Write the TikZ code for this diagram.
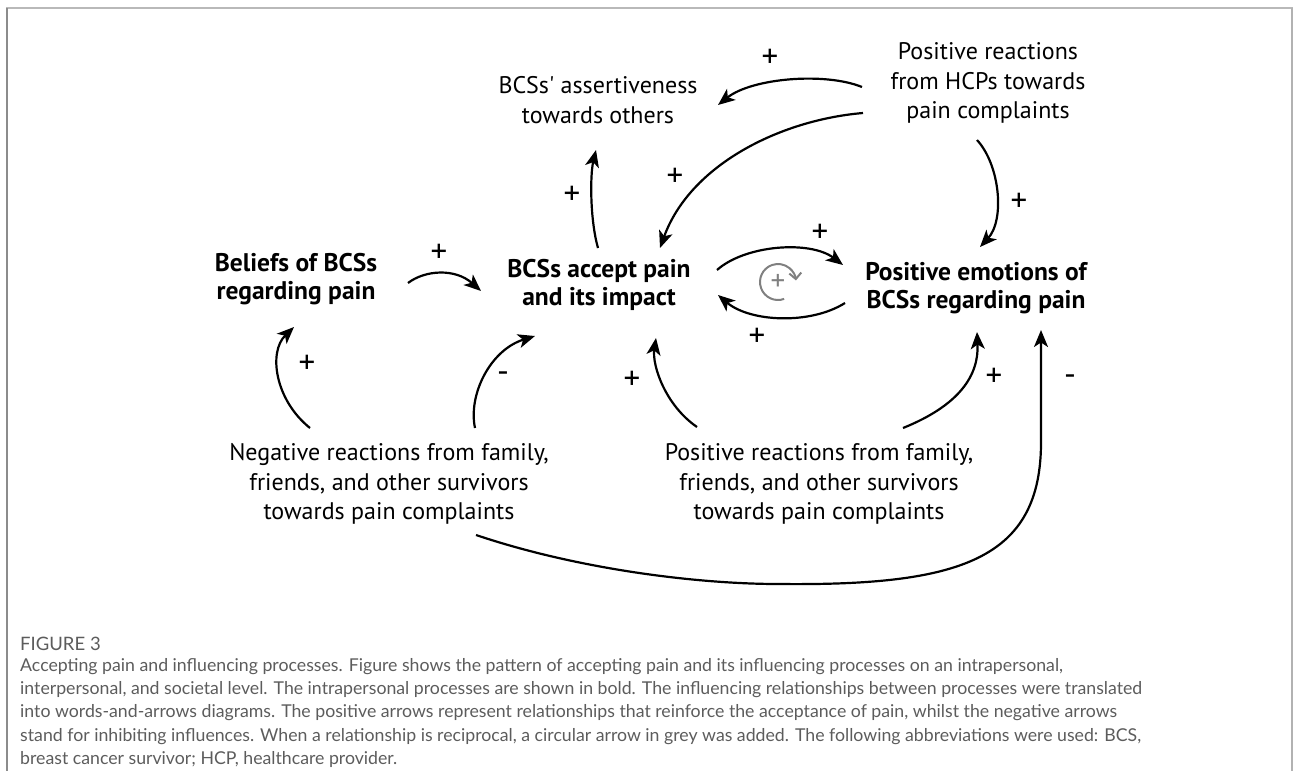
\documentclass[tikz,border=0pt]{standalone}
\usepackage{fontspec}
\setmainfont{PT Sans}
\newfontfamily\capfont{Lato}
\usetikzlibrary{arrows.meta}
\usetikzlibrary{calc}
\definecolor{captext}{HTML}{5C5C5C}
\tikzset{proc/.style={align=center,inner sep=0pt,font=\fontsize{24}{29.5}\selectfont},
 intra/.style={proc,font=\fontsize{25.5}{28.5}\selectfont\bfseries},
 sign/.style={inner sep=0pt,font=\fontsize{33}{33}\selectfont},
 infl/.style={draw,line width=2.2pt,-{Stealth[length=17pt,width=14pt,inset=4.5pt]}},
 }

\begin{document}
\begin{tikzpicture}[x=1pt,y=-1pt]
    \useasboundingbox (0,0) rectangle (1293,771);
    % frame
    \draw[line width=2pt,gray!55] (6,8) -- (1293,8);
    \draw[line width=2pt,gray!90] (7,8) -- (7,771);
    \draw[line width=1.5pt,gray!60] (1292,8) -- (1292,771);

    % processes
    \node[proc] (asr) at (598,100) {BCSs\textquotesingle{} assertiveness\\towards others};
    \node[proc] (hcp) at (988,83) {Positive reactions\\from HCPs towards\\pain complaints};
    \node[intra] (bel) at (296,279) {Beliefs of BCSs\\regarding pain};
    \node[intra] (acc) at (599,285) {BCSs accept pain\\and its impact};
    \node[intra] (emo) at (976,288) {Positive emotions of\\BCSs regarding pain};
    \node[proc] (neg) at (389,484) {Negative reactions from family,\\friends, and other survivors\\towards pain complaints};
    \node[proc] (pos) at (819,484) {Positive reactions from family,\\friends, and other survivors\\towards pain complaints};

    % influences
    \draw[infl] ($(hcp)+(-126,4)$) .. controls +(-37,-15) and +(34,-27) .. ($(asr)+(120,5)$);
    \draw[infl] ($(hcp)+(-125,30)$) .. controls +(-83,7) and +(30,-83) .. ($(acc)+(61,-37)$);
    \draw[infl] ($(acc)+(-1,-37)$) .. controls +(-8,-28) and +(-6,25) .. ($(asr)+(-2,50)$);
    \draw[infl] ($(hcp)+(-11,57)$) .. controls +(23,25) and +(25,-27) .. ($(emo)+(4,-41)$);
    \draw[infl] ($(acc)+(118,-15)$) .. controls +(28,-25) and +(-33,-25) .. ($(emo)+(-133,-23)$);
    \draw[infl] ($(emo)+(-131,15)$) .. controls +(-35,22) and +(32,27) .. ($(acc)+(119,10)$);
    \draw[infl] ($(bel)+(112,4)$) .. controls +(17,-13) and +(-26,-23) .. ($(acc)+(-118,6)$);
    \draw[infl] ($(neg)+(-79,-56)$) .. controls +(-35,-28) and +(-26,25) .. ($(bel)+(-2,48)$);
    \draw[infl] ($(neg)+(86,-56)$) .. controls +(-7,-33) and +(-45,14) .. ($(acc)+(-64,51)$);
    \draw[infl] ($(pos)+(-122,-57)$) .. controls +(-32,-22) and +(-4,27) .. ($(acc)+(57,53)$);
    \draw[infl] ($(pos)+(84,-56)$) .. controls +(57,-23) and +(2,43) .. ($(emo)+(1,44)$);
    \draw[infl] ($(neg)+(87,51)$) .. controls +(104,35) and +(-78,0) .. (778,584)
        .. controls +(182,2) and +(1,120) .. (1041,440) -- ($(emo)+(65,42)$);

    % signs
    \node[sign] (sa) at (770,58) {+};
    \node[sign] (sb) at (675,177) {+};
    \node[sign] (sc) at (572,195) {+};
    \node[sign] (sd) at (1019,202) {+};
    \node[sign] (se) at (820,233) {+};
    \node[sign] (sf) at (757,337) {+};
    \node[sign] (sh) at (439,253) {+};
    \node[sign] (si) at (307,364) {+};
    \node[sign] (sj) at (503,377) {-};
    \node[sign] (sk) at (632,380) {+};
    \node[sign] (sl) at (994,377) {+};
    \node[sign] (sm) at (1070,380) {-};

    % reciprocal loop
    \node[sign,text=gray,font=\fontsize{29}{29}\selectfont] (loop) at (778,282) {+};
    \draw[gray,line width=2pt,-{Straight Barb[length=6pt,width=12pt]}]
        ($(loop)+(70:18)$) arc[start angle=70,end angle=355,radius=18];

    % caption
    \node[anchor=north west,inner sep=0pt,text=captext,font=\capfont\fontsize{18.5}{18.5}\selectfont] (fig) at (20,637) {FIGURE 3};
    \node[anchor=north west,align=left,inner sep=0pt,text=captext,font=\capfont\fontsize{17.7}{23.3}\selectfont] (cap) at (20,658)
        {Accepting pain and influencing processes. Figure shows the pattern of accepting pain and its influencing processes on an intrapersonal,\\
         interpersonal, and societal level. The intrapersonal processes are shown in bold. The influencing relationships between processes were translated\\
         into words-and-arrows diagrams. The positive arrows represent relationships that reinforce the acceptance of pain, whilst the negative arrows\\
         stand for inhibiting influences. When a relationship is reciprocal, a circular arrow in grey was added. The following abbreviations were used: BCS,\\
         breast cancer survivor; HCP, healthcare provider.};
\end{tikzpicture}
\end{document}
